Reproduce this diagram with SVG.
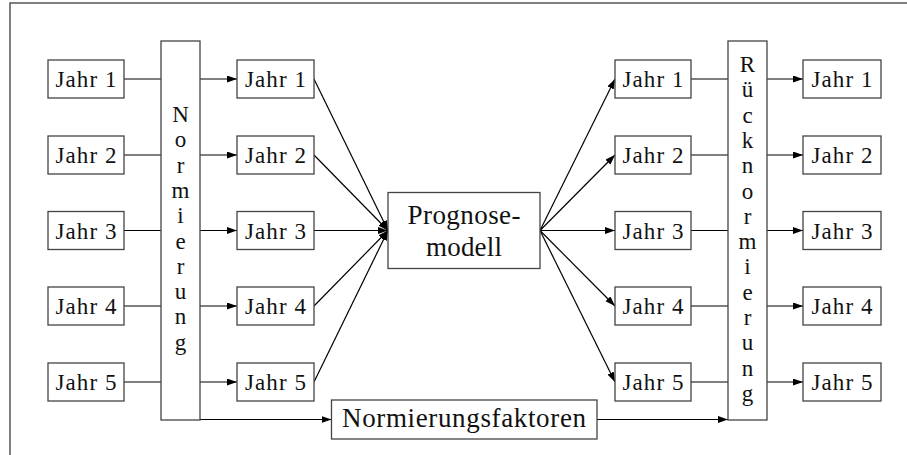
<svg xmlns="http://www.w3.org/2000/svg" width="907" height="455" viewBox="0 0 907 455">
<defs>
<marker id="ah" markerUnits="userSpaceOnUse" markerWidth="11" markerHeight="8" refX="10" refY="3.5" orient="auto">
<path d="M0,0 L10,3.5 L0,7 z" fill="#000"/>
</marker>
<style>
.box{fill:#fff;stroke:#444;stroke-width:1.3}
.ln{stroke:#000;stroke-width:1.2;fill:none}
.ar{stroke:#000;stroke-width:1.2;fill:none;marker-end:url(#ah)}
.t{font-size:23px;fill:#111;text-anchor:middle}
.tb{font-size:27px;fill:#111;text-anchor:middle}
.frame{stroke:#555;stroke-width:1.5;fill:none}
</style>
</defs>
<rect width="907" height="455" fill="#fff"/>
<path class="frame" d="M10,455 V3 H907"/>

<g id="connectors">
<path class="ln" d="M124,79 H161 M124,155 H161 M124,230.5 H161 M124,306 H161 M124,382 H161"/>
<path class="ar" d="M200,79 H237"/>
<path class="ar" d="M200,155 H237"/>
<path class="ar" d="M200,230.5 H237"/>
<path class="ar" d="M200,306 H237"/>
<path class="ar" d="M200,382 H237"/>
<path class="ar" d="M314,79 L388,230.5"/>
<path class="ar" d="M314,155 L388,230.5"/>
<path class="ar" d="M314,230.5 L388,230.5"/>
<path class="ar" d="M314,306 L388,230.5"/>
<path class="ar" d="M314,382 L388,230.5"/>
<path class="ar" d="M540,230.5 L615,79"/>
<path class="ar" d="M540,230.5 L615,155"/>
<path class="ar" d="M540,230.5 L615,230.5"/>
<path class="ar" d="M540,230.5 L615,306"/>
<path class="ar" d="M540,230.5 L615,382"/>
<path class="ln" d="M691,79 H728 M691,155 H728 M691,230.5 H728 M691,306 H728 M691,382 H728"/>
<path class="ar" d="M767,79 H803"/>
<path class="ar" d="M767,155 H803"/>
<path class="ar" d="M767,230.5 H803"/>
<path class="ar" d="M767,306 H803"/>
<path class="ar" d="M767,382 H803"/>
<path class="ar" d="M200,419.5 H331.5"/>
<path class="ar" d="M597,419.5 H728"/>
</g>

<g font-family="Liberation Serif, DejaVu Serif, serif">
<g id="in1"><rect class="box" x="48" y="60" width="76" height="38"/><text class="t" x="86" y="87" textLength="61" lengthAdjust="spacing">Jahr 1</text></g>
<g id="in2"><rect class="box" x="48" y="136" width="76" height="38"/><text class="t" x="86" y="163" textLength="61" lengthAdjust="spacing">Jahr 2</text></g>
<g id="in3"><rect class="box" x="48" y="211.5" width="76" height="38"/><text class="t" x="86" y="238.5" textLength="61" lengthAdjust="spacing">Jahr 3</text></g>
<g id="in4"><rect class="box" x="48" y="287" width="76" height="38"/><text class="t" x="86" y="314" textLength="61" lengthAdjust="spacing">Jahr 4</text></g>
<g id="in5"><rect class="box" x="48" y="363" width="76" height="38"/><text class="t" x="86" y="390" textLength="61" lengthAdjust="spacing">Jahr 5</text></g>

<g id="normierung"><rect class="box" x="161" y="41" width="39" height="379"/>
<text class="t"><tspan x="180.5" y="122">N</tspan><tspan x="180.5" y="147.3">o</tspan><tspan x="180.5" y="172.6">r</tspan><tspan x="180.5" y="197.9">m</tspan><tspan x="180.5" y="223.2">i</tspan><tspan x="180.5" y="248.5">e</tspan><tspan x="180.5" y="273.8">r</tspan><tspan x="180.5" y="299.1">u</tspan><tspan x="180.5" y="324.4">n</tspan><tspan x="180.5" y="349.7">g</tspan></text></g>

<g id="n1"><rect class="box" x="237" y="60" width="77" height="38"/><text class="t" x="275.5" y="87" textLength="61" lengthAdjust="spacing">Jahr 1</text></g>
<g id="n2"><rect class="box" x="237" y="136" width="77" height="38"/><text class="t" x="275.5" y="163" textLength="61" lengthAdjust="spacing">Jahr 2</text></g>
<g id="n3"><rect class="box" x="237" y="211.5" width="77" height="38"/><text class="t" x="275.5" y="238.5" textLength="61" lengthAdjust="spacing">Jahr 3</text></g>
<g id="n4"><rect class="box" x="237" y="287" width="77" height="38"/><text class="t" x="275.5" y="314" textLength="61" lengthAdjust="spacing">Jahr 4</text></g>
<g id="n5"><rect class="box" x="237" y="363" width="77" height="38"/><text class="t" x="275.5" y="390" textLength="61" lengthAdjust="spacing">Jahr 5</text></g>

<g id="prognose"><rect class="box" x="388" y="192.5" width="152" height="76"/>
<text class="tb" x="464" y="224" textLength="113" lengthAdjust="spacing">Prognose-</text>
<text class="tb" x="464" y="256" textLength="76" lengthAdjust="spacing">modell</text></g>

<g id="faktoren"><rect class="box" x="331.5" y="400" width="265.5" height="39"/>
<text class="tb" x="464" y="427" textLength="244" lengthAdjust="spacing">Normierungsfaktoren</text></g>

<g id="p1"><rect class="box" x="615" y="60" width="76" height="38"/><text class="t" x="653" y="87" textLength="61" lengthAdjust="spacing">Jahr 1</text></g>
<g id="p2"><rect class="box" x="615" y="136" width="76" height="38"/><text class="t" x="653" y="163" textLength="61" lengthAdjust="spacing">Jahr 2</text></g>
<g id="p3"><rect class="box" x="615" y="211.5" width="76" height="38"/><text class="t" x="653" y="238.5" textLength="61" lengthAdjust="spacing">Jahr 3</text></g>
<g id="p4"><rect class="box" x="615" y="287" width="76" height="38"/><text class="t" x="653" y="314" textLength="61" lengthAdjust="spacing">Jahr 4</text></g>
<g id="p5"><rect class="box" x="615" y="363" width="76" height="38"/><text class="t" x="653" y="390" textLength="61" lengthAdjust="spacing">Jahr 5</text></g>

<g id="ruecknormierung"><rect class="box" x="728" y="41" width="39" height="379"/>
<text class="t"><tspan x="747.5" y="72">R</tspan><tspan x="747.5" y="97.3">ü</tspan><tspan x="747.5" y="122.6">c</tspan><tspan x="747.5" y="147.9">k</tspan><tspan x="747.5" y="173.2">n</tspan><tspan x="747.5" y="198.5">o</tspan><tspan x="747.5" y="223.8">r</tspan><tspan x="747.5" y="249.1">m</tspan><tspan x="747.5" y="274.4">i</tspan><tspan x="747.5" y="299.7">e</tspan><tspan x="747.5" y="325">r</tspan><tspan x="747.5" y="350.3">u</tspan><tspan x="747.5" y="375.6">n</tspan><tspan x="747.5" y="400.9">g</tspan></text></g>

<g id="o1"><rect class="box" x="803" y="60" width="78" height="38"/><text class="t" x="842" y="87" textLength="61" lengthAdjust="spacing">Jahr 1</text></g>
<g id="o2"><rect class="box" x="803" y="136" width="78" height="38"/><text class="t" x="842" y="163" textLength="61" lengthAdjust="spacing">Jahr 2</text></g>
<g id="o3"><rect class="box" x="803" y="211.5" width="78" height="38"/><text class="t" x="842" y="238.5" textLength="61" lengthAdjust="spacing">Jahr 3</text></g>
<g id="o4"><rect class="box" x="803" y="287" width="78" height="38"/><text class="t" x="842" y="314" textLength="61" lengthAdjust="spacing">Jahr 4</text></g>
<g id="o5"><rect class="box" x="803" y="363" width="78" height="38"/><text class="t" x="842" y="390" textLength="61" lengthAdjust="spacing">Jahr 5</text></g>
</g>
</svg>
